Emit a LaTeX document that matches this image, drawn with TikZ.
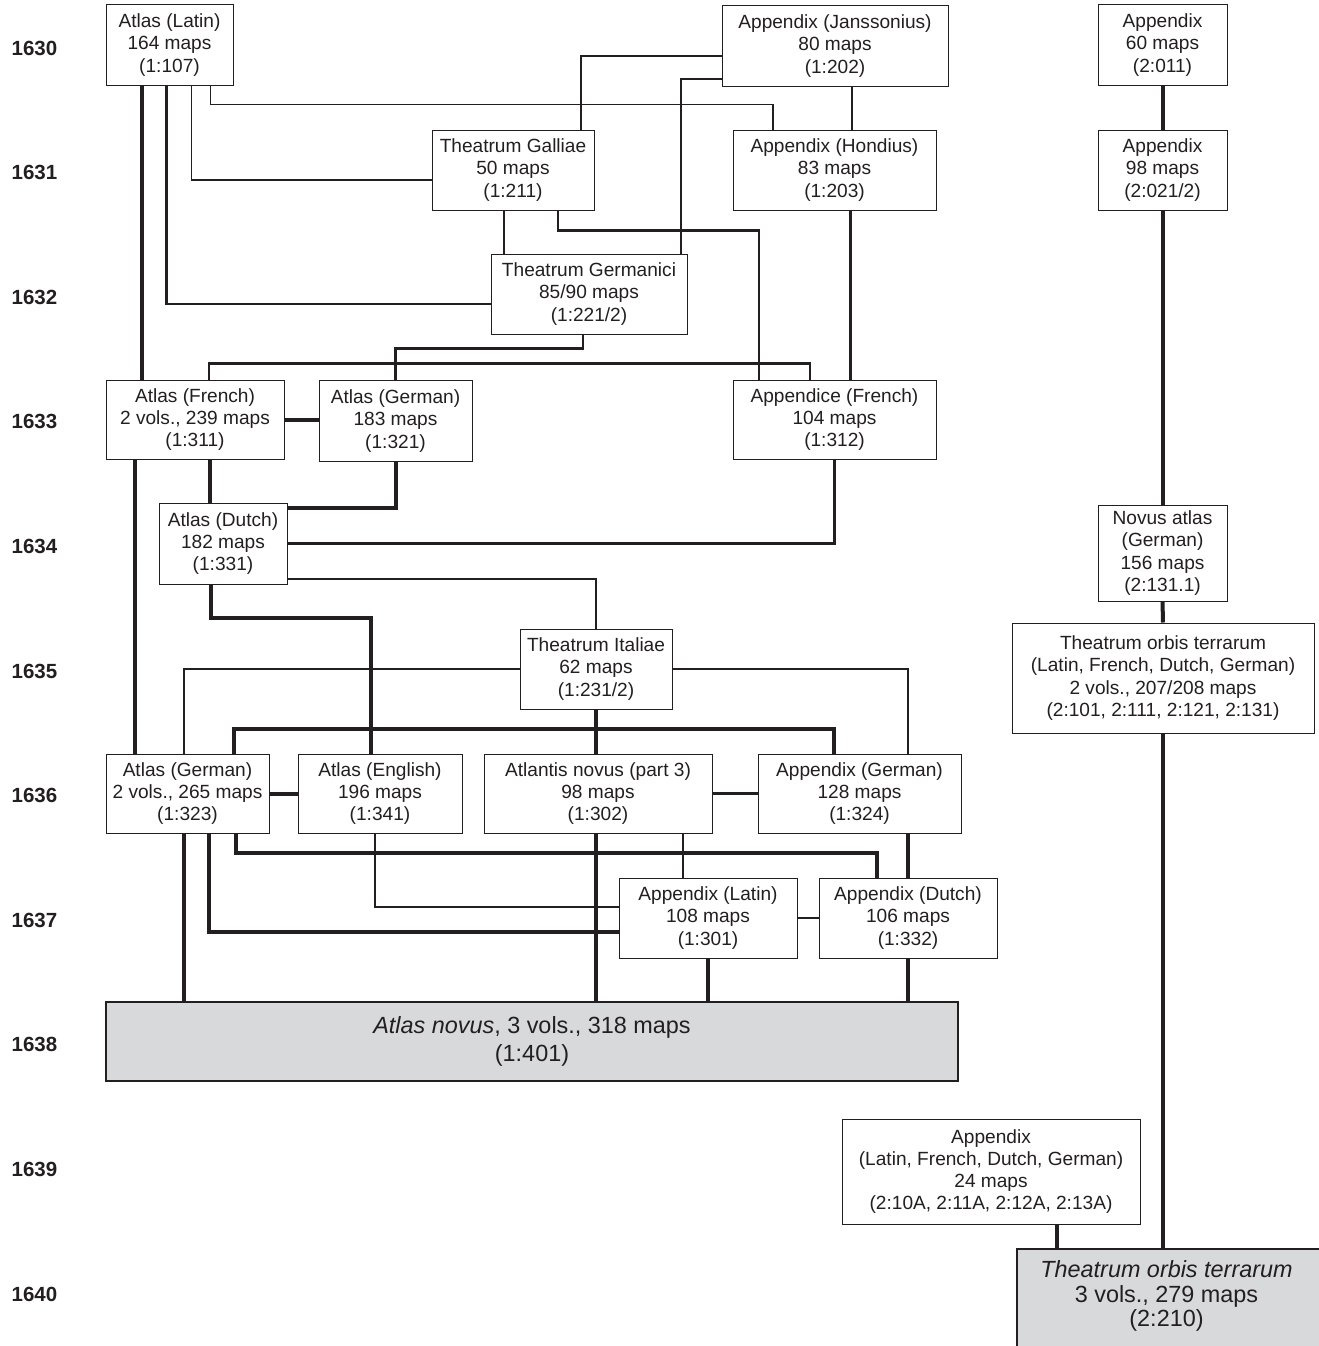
\documentclass[tikz,border=0pt]{standalone}
\usepackage{fontspec}
\setmainfont{Liberation Sans}
\definecolor{ink}{RGB}{35,31,32}
\definecolor{shade}{RGB}{216,217,219}
\newcommand{\boxfont}{\fontsize{19.1}{22.2}\selectfont}
\newcommand{\bigfont}{\fontsize{23.4}{26.5}\selectfont}
\newcommand{\yearfont}{\fontsize{20.5}{24}\selectfont\bfseries}
\tikzset{
    box/.style 2 args={draw=ink, line width=1pt, rectangle, inner sep=0pt,
        align=center, font=\boxfont, text=ink, fill=white,
        minimum width=#1, minimum height=#2},
    bigbox/.style 2 args={box={#1}{#2}, fill=shade, line width=2pt, font=\bigfont},
    year/.style={font=\yearfont, text=ink},
    lightln/.style={draw=ink, line width=1.2pt},
    midln/.style={draw=ink, line width=2.2pt},
    heavyln/.style={draw=ink, line width=4pt}
}
\begin{document}
\begin{tikzpicture}
                [x=1pt, y=-1pt, node distance=124.6pt]
                \useasboundingbox (0,0) rectangle (1319,1346);

                \node[year] (y30) at (34.5,48) {1630};
                \node[year] (y31) [below of=y30] {1631};
                \node[year] (y32) [below of=y31] {1632};
                \node[year] (y33) [below of=y32] {1633};
                \node[year] (y34) [below of=y33] {1634};
                \node[year] (y35) [below of=y34] {1635};
                \node[year] (y36) [below of=y35] {1636};
                \node[year] (y37) [below of=y36] {1637};
                \node[year] (y38) [below of=y37] {1638};
                \node[year] (y39) [below of=y38] {1639};
                \node[year] (y40) [below of=y39] {1640};

                \node[box={127pt}{80pt}] (lat) at (169.5,45) {Atlas (Latin)\\164 maps\\(1:107)};
                \node[box={226pt}{80pt}] (jan) at (835,46) {Appendix (Janssonius)\\80 maps\\(1:202)};
                \node[box={162pt}{80pt}] (gal) at (513,170) {Theatrum Galliae\\50 maps\\(1:211)};
                \node[box={203pt}{80pt}] (hon) at (834.5,170) {Appendix (Hondius)\\83 maps\\(1:203)};
                \node[box={196pt}{80pt}] (ger) at (589,294) {Theatrum Germanici\\85/90 maps\\(1:221/2)};

                \node[box={178pt}{79pt}] (fre) at (195,419.5) {Atlas (French)\\2 vols., 239 maps\\(1:311)};
                \node[box={153pt}{81pt}] (ag33) at (395.5,421) {Atlas (German)\\183 maps\\(1:321)};
                \node[box={203pt}{79pt}] (apf) at (834.5,419.5) {Appendice (French)\\104 maps\\(1:312)};
                \node[box={128pt}{81pt}] (dut) at (223,543.5) {Atlas (Dutch)\\182 maps\\(1:331)};
                \node[box={152pt}{80pt}] (ita) at (596,669) {Theatrum Italiae\\62 maps\\(1:231/2)};

                \node[box={163pt}{79pt}] (ag36) at (187.5,793.5) {Atlas (German)\\2 vols., 265 maps\\(1:323)};
                \node[box={164pt}{79pt}] (eng) at (380,793.5) {Atlas (English)\\196 maps\\(1:341)};
                \node[box={228pt}{79pt}] (atn) at (598,793.5) {Atlantis novus (part 3)\\98 maps\\(1:302)};
                \node[box={203pt}{79pt}] (apg) at (859.5,793.5) {Appendix (German)\\128 maps\\(1:324)};
                \node[box={178pt}{80pt}] (apl) at (708,918) {Appendix (Latin)\\108 maps\\(1:301)};
                \node[box={178pt}{80pt}] (apd) at (908,918) {Appendix (Dutch)\\106 maps\\(1:332)};
                \node[bigbox={852pt}{79pt}, font=\fontsize{23.4}{28}\selectfont] (nov) at (532,1041)
                    {\textit{Atlas novus}, 3 vols., 318 maps\\(1:401)};

                \node[box={129pt}{80pt}] (a1) at (1162.5,45) {Appendix\\60 maps\\(2:011)};
                \node[box={129pt}{80pt}] (a2) at (1162.5,170) {Appendix\\98 maps\\(2:021/2)};
                \node[box={129pt}{96pt}] (nva) at (1162.5,553) {Novus atlas\\(German)\\156 maps\\(2:131.1)};
                \node[box={302pt}{110pt}] (tot) at (1163,678)
                    {Theatrum orbis terrarum\\(Latin, French, Dutch, German)\\2 vols., 207/208 maps\\(2:101, 2:111, 2:121, 2:131)};
                \node[box={298pt}{105pt}] (a39) at (991,1171.5)
                    {Appendix\\(Latin, French, Dutch, German)\\24 maps\\(2:10A, 2:11A, 2:12A, 2:13A)};
                \node[bigbox={340pt}{140pt}, anchor=north west] (tfin) at (1016,1248) {};
                \node[font=\fontsize{23.4}{24.5}\selectfont, text=ink, align=center] (tfint) at (1166.5,1296)
                    {\textit{Theatrum orbis terrarum}\\3 vols., 279 maps\\(2:210)};

                % 1630-1632
                \draw[heavyln] ([xshift=-28pt]lat.south) -- ([xshift=-28pt]lat.south |- fre.north);
                \draw[midln] ([xshift=-3pt]lat.south) |- ([yshift=-10pt]ger.west);
                \draw[lightln] ([xshift=22pt]lat.south) |- ([yshift=-10pt]gal.west);
                \draw[lightln] ([xshift=41pt]lat.south) -- ([xshift=41pt,yshift=-19pt]lat.south) -| ([xshift=-61.5pt]hon.north);
                \draw[lightln] ([xshift=68pt]gal.north) |- ([yshift=-10pt]jan.west);
                \draw[lightln] ([xshift=-9pt]gal.south) -- ([xshift=-9pt]gal.south |- ger.north);
                \draw[midln] ([yshift=-33pt]jan.west) -| ([xshift=92pt]ger.north);
                \draw[midln] ([xshift=45pt]gal.south) -- ([xshift=45pt,yshift=-20pt]gal.south) -| ([xshift=-75.5pt]apf.north);
                \draw[midln] ([xshift=17pt]jan.south) -- ([xshift=17pt]jan.south |- hon.north);
                \draw[midln] ([xshift=16pt]hon.south) -- ([xshift=16pt]hon.south |- apf.north);
                \draw[midln] ([xshift=-6pt]ger.south) -- ([xshift=-6pt,yshift=-14pt]ger.south) -| (ag33.north);

                % 1633-1635
                \draw[midln] ([xshift=14pt]fre.north) -- ([xshift=14pt,yshift=16pt]fre.north) -| ([xshift=-24.5pt]apf.north);
                \draw[heavyln] (fre.east) -- (fre.east -| ag33.west);
                \draw[heavyln] ([xshift=15pt]fre.south) -- ([xshift=15pt]fre.south |- dut.north);
                \draw[heavyln] ([xshift=-60pt]fre.south) -- ([xshift=-60pt]fre.south |- ag36.north);
                \draw[heavyln] (ag33.south) |- ([yshift=36pt]dut.east);
                \draw[midln] (dut.east) -| (apf.south);
                \draw[midln] ([yshift=-35.5pt]dut.east) -| (ita.north);
                \draw[heavyln] ([xshift=-12pt]dut.south) -- ([xshift=-12pt,yshift=-33pt]dut.south) -| ([xshift=-9pt]eng.north);
                \draw[midln] (ita.west) -| ([xshift=-3.5pt]ag36.north);
                \draw[midln] (ita.east) -| ([xshift=48.5pt]apg.north);
                \draw[heavyln] (ita.south) -- (ita.south |- atn.north);

                % 1636-1638
                \draw[heavyln] ([xshift=46.5pt]ag36.north) -- ([xshift=46.5pt,yshift=25pt]ag36.north) -| ([xshift=-25.5pt]apg.north);
                \draw[heavyln] (ag36.east) -- (eng.west);
                \draw[midln] (atn.east) -- (apg.west);
                \draw[heavyln] ([xshift=48.5pt]ag36.south) -- ([xshift=48.5pt,yshift=-19pt]ag36.south) -| ([xshift=-31pt]apd.north);
                \draw[midln] ([xshift=-5pt]eng.south) |- ([yshift=11pt]apl.west);
                \draw[heavyln] ([xshift=21.5pt]ag36.south) |- ([yshift=-14pt]apl.west);
                \draw[heavyln] ([xshift=-3.5pt]ag36.south) -- ([xshift=-3.5pt]ag36.south |- nov.north);
                \draw[heavyln] ([xshift=-2pt]atn.south) -- ([xshift=-2pt]atn.south |- nov.north);
                \draw[midln] ([xshift=85pt]atn.south) -- ([xshift=85pt]atn.south |- apl.north);
                \draw[midln] (apl.east) -- (apd.west);
                \draw[heavyln] ([xshift=48.5pt]apg.south) -- (apd.north);
                \draw[heavyln] (apl.south) -- (apl.south |- nov.north);
                \draw[heavyln] (apd.south) -- (apd.south |- nov.north);

                % right column
                \foreach \a/\b in {a1/a2, a2/nva, nva/tot}
                {
                    \draw[heavyln] (\a.south) -- (\b.north);
                }
                \draw[heavyln] (tot.south) -- (tot.south |- tfin.north);
                \draw[heavyln] ([xshift=65.5pt]a39.south) -- ([xshift=65.5pt]a39.south |- tfin.north);
            \end{tikzpicture}
\end{document}
